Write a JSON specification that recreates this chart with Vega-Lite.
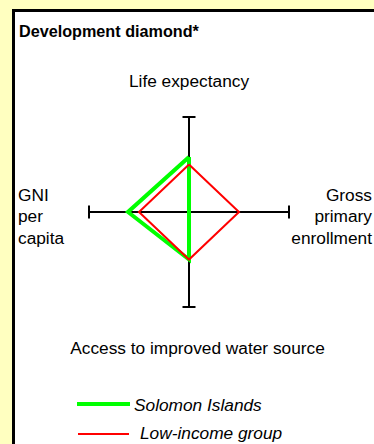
{
  "$schema": "https://vega.github.io/schema/vega-lite/v6.json",
  "width": 361,
  "height": 434,
  "autosize": {"type": "none"},
  "padding": {"left": 13, "top": 10, "right": 0, "bottom": 0},
  "background": "#ffffc0",
  "config": {
    "view": {"fill": "white", "stroke": null},
    "text": {"font": "Liberation Sans", "color": "black"}
  },
  "datasets": {
    "axes": [
      {"part": "vertical", "x": 0, "x2": 0, "y": -100, "y2": 100},
      {"part": "horizontal", "x": -100, "x2": 100, "y": 0, "y2": 0},
      {"part": "top cap", "x": -6.5, "x2": 6.5, "y": 100, "y2": 100},
      {"part": "bottom cap", "x": -6.5, "x2": 6.5, "y": -100, "y2": -100},
      {"part": "left cap", "x": -100, "x2": -100, "y": -6.8, "y2": 6.8},
      {"part": "right cap", "x": 100, "x2": 100, "y": -6.8, "y2": 6.8}
    ],
    "diamond": [
      {"series": "Solomon Islands", "axis": "Life expectancy", "order": 1, "x": 0, "y": 58},
      {"series": "Solomon Islands", "axis": "GNI per capita", "order": 2, "x": -61, "y": 0},
      {"series": "Solomon Islands", "axis": "Access to improved water source", "order": 3, "x": 0, "y": -50},
      {"series": "Solomon Islands", "axis": "Gross primary enrollment", "order": 4, "x": 0, "y": 0},
      {"series": "Solomon Islands", "axis": "Life expectancy", "order": 5, "x": 0, "y": 58},
      {"series": "Low-income group", "axis": "Life expectancy", "order": 1, "x": 0, "y": 50},
      {"series": "Low-income group", "axis": "GNI per capita", "order": 2, "x": -50, "y": 0},
      {"series": "Low-income group", "axis": "Access to improved water source", "order": 3, "x": 0, "y": -50},
      {"series": "Low-income group", "axis": "Gross primary enrollment", "order": 4, "x": 50, "y": 0},
      {"series": "Low-income group", "axis": "Life expectancy", "order": 5, "x": 0, "y": 50}
    ],
    "labels": [
      {"group": "title", "label": "Development diamond*", "x": -170, "y": 183.7},
      {"group": "center", "label": "Life expectancy", "x": 0, "y": 131.6},
      {"group": "center", "label": "Access to improved water source", "x": 8.5, "y": -149.5},
      {"group": "left", "label": "GNI\nper\ncapita", "x": -171, "y": 11.6},
      {"group": "right", "label": "Gross\nprimary\nenrollment", "x": 183, "y": 11.6}
    ],
    "legend": [
      {"series": "Solomon Islands", "x": -112, "x2": -59, "y": -202.1, "tx": -55, "ty": -209},
      {"series": "Low-income group", "x": -111, "x2": -60, "y": -233.7, "tx": -49, "ty": -239}
    ]
  },
  "encoding": {
    "x": {
      "field": "x", "type": "quantitative",
      "scale": {"domain": [-176, 185], "nice": false, "zero": false},
      "axis": {"orient": "top", "title": null, "labels": false, "ticks": false, "grid": false, "domainColor": "black", "domainWidth": 3, "domainCap": "square"}
    },
    "y": {
      "field": "y", "type": "quantitative",
      "scale": {"domain": [-244.21, 212.63], "nice": false, "zero": false},
      "axis": {"orient": "left", "title": null, "labels": false, "ticks": false, "grid": false, "domainColor": "black", "domainWidth": 3, "domainCap": "square"}
    }
  },
  "layer": [
    {
      "data": {"name": "axes"},
      "mark": {"type": "rule", "color": "black", "strokeWidth": 2, "strokeCap": "butt"},
      "encoding": {"x2": {"field": "x2"}, "y2": {"field": "y2"}}
    },
    {
      "data": {"name": "diamond"},
      "transform": [{"filter": "datum.series === 'Solomon Islands'"}],
      "mark": {"type": "line", "strokeJoin": "miter", "strokeCap": "butt"},
      "encoding": {
        "order": {"field": "order", "type": "quantitative"},
        "color": {"field": "series", "type": "nominal", "scale": {"domain": ["Solomon Islands", "Low-income group"], "range": ["#00ff00", "#ff0000"]}, "legend": null},
        "strokeWidth": {"field": "series", "type": "nominal", "scale": {"domain": ["Solomon Islands", "Low-income group"], "range": [4, 2]}, "legend": null}
      }
    },
    {
      "data": {"name": "diamond"},
      "transform": [{"filter": "datum.series === 'Low-income group'"}],
      "mark": {"type": "line", "strokeJoin": "miter", "strokeCap": "butt"},
      "encoding": {
        "order": {"field": "order", "type": "quantitative"},
        "color": {"field": "series", "type": "nominal", "scale": {"domain": ["Solomon Islands", "Low-income group"], "range": ["#00ff00", "#ff0000"]}, "legend": null},
        "strokeWidth": {"field": "series", "type": "nominal", "scale": {"domain": ["Solomon Islands", "Low-income group"], "range": [4, 2]}, "legend": null}
      }
    },
    {
      "data": {"name": "legend"},
      "mark": {"type": "rule", "strokeCap": "butt"},
      "encoding": {
        "x2": {"field": "x2"},
        "color": {"field": "series", "type": "nominal", "scale": {"domain": ["Solomon Islands", "Low-income group"], "range": ["#00ff00", "#ff0000"]}, "legend": null},
        "strokeWidth": {"field": "series", "type": "nominal", "scale": {"domain": ["Solomon Islands", "Low-income group"], "range": [4, 2]}, "legend": null}
      }
    },
    {
      "data": {"name": "legend"},
      "mark": {"type": "text", "align": "left", "baseline": "alphabetic", "fontSize": 17.3, "fontStyle": "italic"},
      "encoding": {
        "x": {"field": "tx", "type": "quantitative"},
        "y": {"field": "ty", "type": "quantitative"},
        "text": {"field": "series"}
      }
    },
    {
      "data": {"name": "labels"},
      "transform": [{"filter": "datum.group === 'title'"}],
      "mark": {"type": "text", "align": "left", "baseline": "alphabetic", "fontSize": 16.2, "fontWeight": "bold"},
      "encoding": {"text": {"field": "label"}}
    },
    {
      "data": {"name": "labels"},
      "transform": [{"filter": "datum.group === 'center'"}],
      "mark": {"type": "text", "align": "center", "baseline": "alphabetic", "fontSize": 17.3},
      "encoding": {"text": {"field": "label"}}
    },
    {
      "data": {"name": "labels"},
      "transform": [{"filter": "datum.group === 'left'"}],
      "mark": {"type": "text", "align": "left", "baseline": "alphabetic", "fontSize": 17.3, "lineBreak": "\n", "lineHeight": 21.5},
      "encoding": {"text": {"field": "label"}}
    },
    {
      "data": {"name": "labels"},
      "transform": [{"filter": "datum.group === 'right'"}],
      "mark": {"type": "text", "align": "right", "baseline": "alphabetic", "fontSize": 17.3, "lineBreak": "\n", "lineHeight": 21.5},
      "encoding": {"text": {"field": "label"}}
    }
  ]
}
